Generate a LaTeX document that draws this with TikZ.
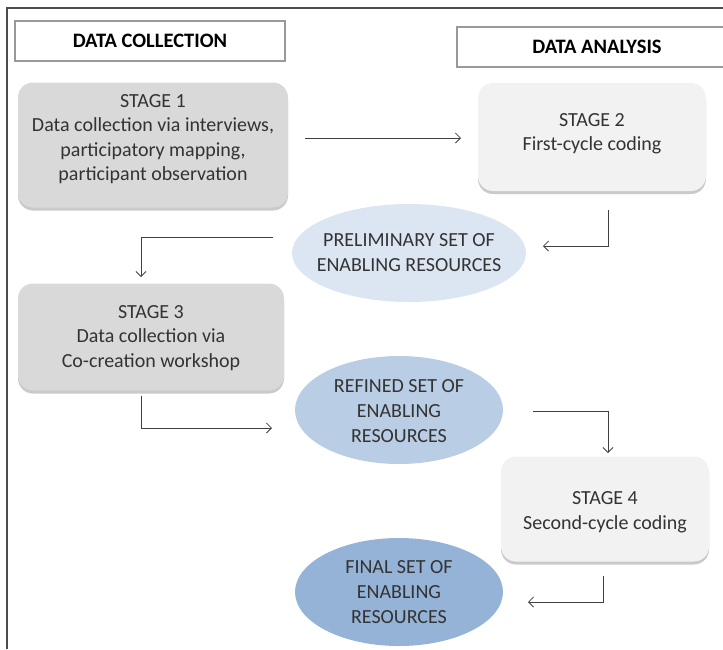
\documentclass[tikz,border=0pt]{standalone}
\usepackage{fontspec}
\setmainfont{Carlito}
\usetikzlibrary{shapes.geometric,shadows,arrows.meta}
\begin{document}
\begin{tikzpicture}[x=1pt,y=-1pt,
  header/.style={draw=black!40,line width=2.5pt,fill=white,minimum height=40pt,
    font=\fontsize{20.5}{24}\selectfont\bfseries},
  stagebox/.style={rounded corners=15pt,
    drop shadow={shadow xshift=0pt,shadow yshift=-3pt,opacity=0.35,fill=black!60}},
  dark/.style={stagebox,fill=black!15},
  light/.style={stagebox,fill=black!5},
  stagetext/.style={align=center,font=\fontsize{20}{24.5}\selectfont,text=black!80},
  blob/.style={ellipse,inner sep=0pt},
  blobtext/.style={align=center,font=\fontsize{20}{25}\selectfont,text=black!80},
  flow/.style={draw=black!75,line width=0.8pt,-{Straight Barb[length=5pt,width=10pt]}}
]
\useasboundingbox (0,0) rectangle (723,649);
% outer frame
\draw[black!70,line width=1.2pt] (7,649) -- (7,8) -- (723,8);

% column headers
\node[header,minimum width=270pt] (hc) at (150,41) {DATA COLLECTION};
\node[header,minimum width=280pt] (ha) at (597,47) {DATA ANALYSIS};

% stage boxes
\node[dark,minimum width=270pt,minimum height=125pt] (s1) at (153,145) {};
\node[stagetext,yshift=6pt] at (s1.center)
  {STAGE 1\\Data collection via interviews,\\participatory mapping,\\participant observation};
\node[light,minimum width=228pt,minimum height=108pt] (s2) at (592,137) {};
\node[stagetext,yshift=3.5pt] at (s2.center) {STAGE 2\\First-cycle coding};
\node[dark,minimum width=266pt,minimum height=107pt] (s3) at (151,337) {};
\node[stagetext,yshift=-1pt] at (s3.center)
  {STAGE 3\\Data collection via\\Co-creation workshop};
\node[light,minimum width=208pt,minimum height=105pt] (s4) at (605,509) {};
\node[stagetext,yshift=-3pt] at (s4.center) {STAGE 4\\Second-cycle coding};

% resource sets
\node[blob,fill={rgb,255:red,220;green,230;blue,242},minimum width=234pt,minimum height=98pt] (e1) at (409,253) {};
\node[blobtext] at (e1.center) {PRELIMINARY SET OF\\ENABLING RESOURCES};
\node[blob,fill={rgb,255:red,185;green,205;blue,229},minimum width=208pt,minimum height=108pt] (e2) at (399,410) {};
\node[blobtext,yshift=-1pt] at (e2.center) {REFINED SET OF\\ENABLING\\RESOURCES};
\node[blob,fill={rgb,255:red,149;green,179;blue,215},minimum width=208pt,minimum height=108pt] (e3) at (399,592) {};
\node[blobtext] at (e3.center) {FINAL SET OF\\ENABLING\\RESOURCES};

% connector end points
\coordinate (a1s) at (305,138);
\coordinate (a1e) at (461,138);
\coordinate (a2s) at (608,210);
\coordinate (a2e) at (543,246);
\coordinate (a3s) at (273,237);
\coordinate (a3e) at (141,277);
\coordinate (a4s) at (141,396);
\coordinate (a4e) at (272,428);
\coordinate (a5s) at (533,411);
\coordinate (a5e) at (608,453);
\coordinate (a6s) at (603,576);
\coordinate (a6e) at (528,602);

% flow
\draw[flow] (a1s) -- (a1e);
\draw[flow] (a2s) |- (a2e);
\draw[flow] (a3s) -| (a3e);
\draw[flow] (a4s) |- (a4e);
\draw[flow] (a5s) -| (a5e);
\draw[flow] (a6s) |- (a6e);
\end{tikzpicture}
\end{document}
